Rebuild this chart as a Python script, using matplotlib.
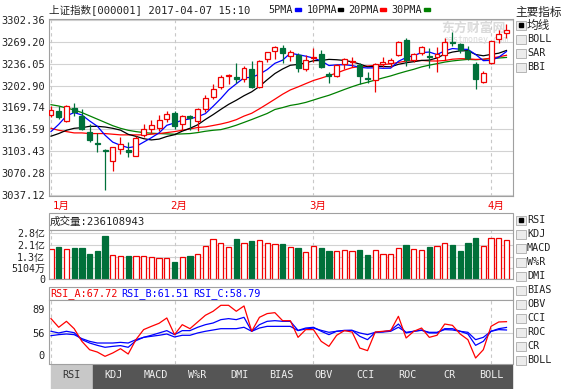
import numpy as np
import pandas as pd
import matplotlib
matplotlib.use('Agg')
import matplotlib.pyplot as plt
from matplotlib.patches import Rectangle

plt.rcParams['font.family'] = ['DejaVu Sans Mono', 'Noto Sans CJK SC']

# trading days shown (2017)
DATES = ['01-05', '01-06', '01-09', '01-10', '01-11', '01-12', '01-13', '01-16', '01-17', '01-18',
         '01-19', '01-20', '01-23', '01-24', '01-25', '01-26', '02-03', '02-06', '02-07', '02-08',
         '02-09', '02-10', '02-13', '02-14', '02-15', '02-16', '02-17', '02-20', '02-21', '02-22',
         '02-23', '02-24', '02-27', '02-28', '03-01', '03-02', '03-03', '03-06', '03-07', '03-08',
         '03-09', '03-10', '03-13', '03-14', '03-15', '03-16', '03-17', '03-20', '03-21', '03-22',
         '03-23', '03-24', '03-27', '03-28', '03-29', '03-30', '03-31', '04-05', '04-06', '04-07']

OPEN = [3159.0, 3164.1, 3149.9, 3169.1, 3156.5, 3133.1, 3116.3, 3105.5, 3088.8, 3106.1,
        3104.5, 3096.4, 3127.4, 3136.6, 3139.2, 3151.9, 3161.1, 3145.3, 3156.5, 3149.9,
        3166.7, 3185.0, 3200.3, 3217.1, 3215.6, 3212.5, 3227.8, 3200.3, 3244.0, 3255.3,
        3259.9, 3248.6, 3249.6, 3227.8, 3244.6, 3251.2, 3220.2, 3217.6, 3235.4, 3239.4,
        3234.4, 3215.0, 3211.4, 3235.4, 3237.0, 3249.6, 3272.6, 3242.0, 3253.2, 3247.5,
        3247.0, 3249.6, 3270.0, 3266.0, 3255.8, 3235.4, 3208.0, 3237.0, 3273.6, 3282.8]
HIGH = [3171.7, 3171.7, 3173.3, 3176.8, 3167.6, 3145.3, 3131.5, 3106.0, 3109.1, 3124.8,
        3117.2, 3125.9, 3144.2, 3150.3, 3158.0, 3164.1, 3164.1, 3159.0, 3159.0, 3169.1,
        3188.5, 3204.9, 3219.5, 3220.6, 3237.9, 3232.8, 3240.5, 3242.0, 3254.7, 3263.4,
        3264.5, 3257.0, 3252.2, 3249.6, 3259.9, 3257.3, 3223.2, 3235.4, 3244.6, 3247.0,
        3237.0, 3223.2, 3237.9, 3247.0, 3245.5, 3271.0, 3276.1, 3252.2, 3263.9, 3259.9,
        3262.3, 3275.1, 3284.3, 3267.5, 3263.4, 3239.4, 3225.2, 3271.5, 3287.8, 3296.6]
LOW = [3154.5, 3151.9, 3147.7, 3156.9, 3135.1, 3117.2, 3101.9, 3043.5, 3072.9, 3099.5,
       3094.3, 3095.8, 3125.4, 3131.0, 3133.5, 3147.7, 3137.7, 3135.1, 3135.1, 3134.0,
       3163.0, 3182.4, 3197.2, 3205.3, 3206.4, 3208.8, 3198.8, 3198.8, 3239.4, 3243.0,
       3237.0, 3241.0, 3224.1, 3225.7, 3239.4, 3229.3, 3207.3, 3215.6, 3228.3, 3231.8,
       3205.3, 3206.4, 3193.6, 3231.8, 3231.8, 3248.6, 3233.3, 3239.4, 3249.6, 3230.3,
       3223.2, 3242.0, 3263.4, 3252.2, 3242.0, 3197.2, 3206.4, 3235.9, 3267.5, 3276.1]
CLOSE = [3165.6, 3154.5, 3171.7, 3162.1, 3137.7, 3120.2, 3114.1, 3103.5, 3109.1, 3113.7,
         3102.0, 3123.3, 3136.6, 3142.7, 3150.3, 3160.0, 3141.2, 3157.5, 3153.0, 3166.7,
         3183.5, 3197.2, 3216.5, 3218.6, 3213.4, 3229.3, 3200.8, 3240.0, 3253.8, 3261.4,
         3253.2, 3253.8, 3229.3, 3242.0, 3247.0, 3231.8, 3218.3, 3234.4, 3243.1, 3241.0,
         3218.1, 3213.0, 3235.9, 3239.4, 3242.0, 3270.0, 3242.0, 3250.7, 3262.3, 3246.1,
         3251.0, 3270.0, 3268.5, 3257.3, 3244.6, 3212.5, 3222.6, 3271.0, 3281.3, 3287.8]

# volume in 亿 (1e8)
VOLUME = [1.81, 1.95, 1.81, 1.89, 1.89, 1.56, 1.69, 2.61, 1.48, 1.42,
          1.38, 1.38, 1.42, 1.36, 1.26, 1.26, 1.07, 1.36, 1.38, 1.55,
          1.99, 2.44, 2.22, 1.93, 2.44, 2.22, 2.32, 2.36, 2.18, 2.12,
          2.12, 1.93, 1.89, 1.63, 1.99, 1.89, 1.71, 1.69, 1.75, 1.69,
          1.75, 1.50, 1.75, 1.55, 1.55, 1.91, 2.06, 1.81, 1.75, 1.93,
          1.99, 2.22, 2.06, 1.69, 2.18, 2.48, 1.99, 2.48, 2.48, 2.36108943]
LAST_VOLUME = 236108943

# moving average values before the window is full
MA5_HEAD = [3133, 3144, 3157, 3162]
MA10_HEAD = [3126, 3130, 3135, 3138, 3139, 3141, 3141, 3140, 3138]
MA20_HEAD = [3138, 3135, 3133, 3131, 3131, 3130, 3130, 3130, 3129, 3128,
             3128, 3128, 3128, 3129, 3130, 3131.5, 3133, 3135, 3137]
MA30_HEAD = [3174, 3172, 3169, 3166, 3162, 3157, 3152, 3147, 3142, 3138,
             3135, 3133, 3131.5, 3130.5, 3130, 3129.5, 3129, 3129.5, 3130, 3131.5,
             3133.5, 3135, 3136, 3139, 3142.7, 3147, 3151.4, 3156, 3160.6]

RSI_A = [71.0, 61.7, 68.1, 60.2, 46.6, 37.6, 35.1, 30.5, 34.1, 38.7,
         33.0, 48.4, 59.2, 62.7, 66.0, 71.7, 53.8, 64.5, 60.2, 67.4,
         74.6, 78.9, 85.3, 85.3, 78.9, 84.6, 57.4, 72.4, 76.4, 77.4,
         68.8, 68.8, 50.9, 59.2, 59.2, 46.6, 41.2, 53.1, 58.1, 56.6,
         39.4, 36.6, 56.6, 57.4, 58.1, 73.5, 50.2, 57.4, 60.9, 50.9,
         53.1, 65.2, 63.8, 54.5, 48.4, 28.7, 37.6, 62.7, 67.4, 67.72]
RSI_B = [57.4, 55.6, 57.4, 55.9, 48.4, 44.8, 42.3, 40.2, 41.2, 42.0,
         40.2, 47.3, 50.9, 53.1, 55.6, 58.1, 53.8, 58.1, 58.1, 61.7,
         64.5, 66.3, 69.9, 71.0, 69.9, 72.4, 57.4, 64.5, 68.1, 68.8,
         68.1, 68.1, 58.4, 60.9, 61.7, 57.4, 53.8, 57.4, 58.4, 58.4,
         52.0, 48.4, 56.3, 57.0, 58.4, 65.2, 55.6, 57.4, 58.8, 55.6,
         55.6, 60.2, 60.2, 57.4, 54.5, 42.3, 46.6, 57.4, 60.2, 61.51]
RSI_C = [52.7, 53.8, 54.5, 53.8, 49.5, 46.6, 44.8, 44.8, 44.8, 45.5,
         44.8, 48.4, 50.9, 52.0, 53.1, 54.5, 51.3, 53.1, 53.1, 55.6,
         57.4, 58.8, 60.2, 60.2, 60.2, 61.7, 57.4, 60.9, 62.7, 62.7,
         62.7, 62.7, 58.1, 59.9, 60.9, 58.4, 56.3, 57.4, 58.1, 58.4,
         55.6, 53.8, 56.3, 56.6, 57.4, 61.7, 56.3, 57.4, 58.4, 56.3,
         56.3, 59.2, 58.8, 57.4, 56.3, 48.4, 50.9, 57.4, 59.2, 58.79]

PRICE_TICKS = [3302.36, 3269.20, 3236.05, 3202.90, 3169.74, 3136.59, 3103.43, 3070.28, 3037.12]
VOL_TICK_LABELS = ['2.8亿', '2.1亿', '1.3亿', '5104万', '0']
RSI_TICK_LABELS = ['89', '56', '0']

MAIN_OPTIONS = ['均线', 'BOLL', 'SAR', 'BBI']
SUB_OPTIONS = ['RSI', 'KDJ', 'MACD', 'W%R', 'DMI', 'BIAS', 'OBV', 'CCI', 'ROC', 'CR', 'BOLL']
TABS = ['RSI', 'KDJ', 'MACD', 'W%R', 'DMI', 'BIAS', 'OBV', 'CCI', 'ROC', 'CR', 'BOLL']

RED = '#f00000'
GREEN = '#00703a'
GRID = '#d2d2d2'
FRAME = '#a0a0a0'
TXT = '#222222'

W, H = 566, 389
X0, DX = 51.0, 7.72          # pixel position of first candle and candle spacing
LEFT, RIGHT = 48.5, 512.5

fig = plt.figure(figsize=(W / 100, H / 100), dpi=100)

# pixel-coordinate overlay for texts, boxes and tabs
bg = fig.add_axes([0, 0, 1, 1])
bg.set_xlim(0, W)
bg.set_ylim(H, 0)
bg.axis('off')
bg.set_zorder(-1)


def px_axes(x0, y0, x1, y1):
    ax = fig.add_axes([x0 / W, 1 - y1 / H, (x1 - x0) / W, (y1 - y0) / H])
    ax.set_xlim((LEFT - X0) / DX, (RIGHT - X0) / DX)
    ax.set_xticks([])
    for s in ax.spines.values():
        s.set_color(FRAME)
        s.set_linewidth(0.8)
    ax.tick_params(axis='y', length=0, pad=2.5, labelsize=7.5, labelcolor=TXT)
    return ax


x = np.arange(len(CLOSE))
closes = pd.Series(CLOSE)
up = np.array(CLOSE) >= np.array(OPEN)
month_starts = [i for i in range(len(DATES)) if i == 0 or DATES[i][:2] != DATES[i - 1][:2]]


def moving(head, n):
    ma = closes.rolling(n).mean().to_numpy()
    ma[:len(head)] = head
    return ma


def month_lines(ax):
    for m in month_starts:
        ax.axvline(m, color='#c8c8c8', lw=0.8, ls=(0, (3, 3)), zorder=0)


# ---- price panel
ax_p = px_axes(LEFT, 19, RIGHT, 195.5)
ax_p.set_ylim(3035.6, 3304.6)
ax_p.set_yticks(PRICE_TICKS)
ax_p.set_yticklabels(['%.2f' % v for v in PRICE_TICKS])
for v in PRICE_TICKS:
    ax_p.axhline(v, color=GRID, lw=0.8, zorder=0)
month_lines(ax_p)

ax_p.text(441, 28.5, '东方财富网', transform=bg.transData, fontsize=9.3, color='#dadada',
          fontweight='bold', va='center', ha='left', zorder=1)
ax_p.text(443, 39.5, 'eastmoney.com', transform=bg.transData, fontsize=6, color='#dadada',
          va='center', ha='left', zorder=1)

for ma, col in [(moving(MA30_HEAD, 30), '#008000'), (moving(MA20_HEAD, 20), '#ff0000'),
                (moving(MA10_HEAD, 10), '#000000'), (moving(MA5_HEAD, 5), '#0000ff')]:
    ax_p.plot(x, ma, color=col, lw=0.9, zorder=2)

for i in x:
    o, h, l, c = OPEN[i], HIGH[i], LOW[i], CLOSE[i]
    lo, hi = min(o, c), max(o, c)
    col = RED if up[i] else GREEN
    if up[i]:
        ax_p.vlines(i, l, lo, color=col, lw=0.9, zorder=3)
        ax_p.vlines(i, hi, h, color=col, lw=0.9, zorder=3)
    else:
        ax_p.vlines(i, l, h, color=col, lw=0.9, zorder=3)
    ax_p.add_patch(Rectangle((i - 0.32, lo), 0.64, max(hi - lo, 1.2),
                             facecolor='white' if up[i] else col, edgecolor=col, lw=0.9, zorder=4))

# ---- header texts
bg.text(49, 9.5, '上证指数[000001] 2017-04-07 15:10', fontsize=7.6, color=TXT, va='center')
legend = [('5PMA', 268, 295, '#0000ff'), ('10PMA', 306.5, 337.5, '#000000'),
          ('20PMA', 348, 380, '#ff0000'), ('30PMA', 391.5, 424, '#008000')]
for name, tx, bx, col in legend:
    bg.text(tx, 9.5, name, fontsize=7.3, color=TXT, va='center')
    bg.add_patch(Rectangle((bx, 7.5), 5.5, 3.5, color=col))

# ---- right option lists
bg.text(515, 12, '主要指标', fontsize=8.4, color=TXT, va='center')


def checkbox(yc, label, checked, size):
    bg.add_patch(Rectangle((515.5, yc - 4.5), 10, 9, facecolor='#ececec', edgecolor='#b4b4b4', lw=0.7))
    if checked:
        bg.add_patch(Rectangle((518.5, yc - 2), 4, 4, color='black'))
    bg.text(527, yc, label, fontsize=size, color=TXT, va='center')


for k, name in enumerate(MAIN_OPTIONS):
    checkbox(25 + 14 * k, name, k == 0, 8.4 if k == 0 else 7.3)
for k, name in enumerate(SUB_OPTIONS):
    checkbox(220 + 14 * k, name, k == 0, 7.3)

# ---- month labels
for m in month_starts:
    mx = max(X0 + DX * m - 4, 53)
    bg.text(mx, 206, '%d月' % int(DATES[m][:2]), fontsize=7.6, color=RED, va='center')

# ---- volume panel
bg.add_patch(Rectangle((LEFT, 213.3), RIGHT - LEFT, 16.7, fill=False, edgecolor=FRAME, lw=0.8))
bg.text(50, 221.7, '成交量:%d' % LAST_VOLUME, fontsize=7.6, color=TXT, va='center')

ax_v = px_axes(LEFT, 230, RIGHT, 279)
ax_v.set_ylim(0, 3.0)
vol_tick_pos = [2.83, 2.08, 1.32, 0.69, 0]   # label positions as drawn on the chart
ax_v.set_yticks(vol_tick_pos)
ax_v.set_yticklabels(VOL_TICK_LABELS)
ax_v.tick_params(axis='y', labelsize=7.2)
for v in vol_tick_pos[:-1]:
    ax_v.axhline(v, color=GRID, lw=0.8, zorder=0)
month_lines(ax_v)
ax_v.bar(x, VOLUME, width=0.68, color=np.where(up, 'white', GREEN),
         edgecolor=np.where(up, RED, GREEN), lw=0.9, zorder=2)

# ---- RSI panel
bg.add_patch(Rectangle((LEFT, 286.7), RIGHT - LEFT, 13.3, fill=False, edgecolor=FRAME, lw=0.8))
bg.text(50, 293.5, 'RSI_A:%.2f' % RSI_A[-1], fontsize=7.3, color=RED, va='center')
bg.text(121.5, 293.5, 'RSI_B:%.2f' % RSI_B[-1], fontsize=7.3, color='#0000ff', va='center')
bg.text(193, 293.5, 'RSI_C:%.2f' % RSI_C[-1], fontsize=7.3, color='#0000ff', va='center')

ax_r = px_axes(LEFT, 300, RIGHT, 363.5)
ax_r.set_ylim(22.8, 91.0)
ax_r.set_yticks([81, 56, 32])
ax_r.set_yticklabels(RSI_TICK_LABELS)
ax_r.axhline(56, color=GRID, lw=0.8, zorder=0)
month_lines(ax_r)
ax_r.plot(x, RSI_C, color='#0000ff', lw=0.9)
ax_r.plot(x, RSI_B, color='#0000ff', lw=0.9)
ax_r.plot(x, RSI_A, color='#ff0000', lw=0.9)

# ---- indicator tabs
tab_w = (RIGHT + 0.5 - 51) / len(TABS)
for k, name in enumerate(TABS):
    tx0 = 51 + k * tab_w
    active = k == 0
    bg.add_patch(Rectangle((tx0, 364), tab_w - 1, 25, color='#c8c8c8' if active else '#555555'))
    bg.text(tx0 + (tab_w - 1) / 2, 374.5, name, fontsize=7.3, ha='center', va='center',
            color='#333333' if active else '#f0f0f0')

fig.savefig('out.png', dpi=100)
